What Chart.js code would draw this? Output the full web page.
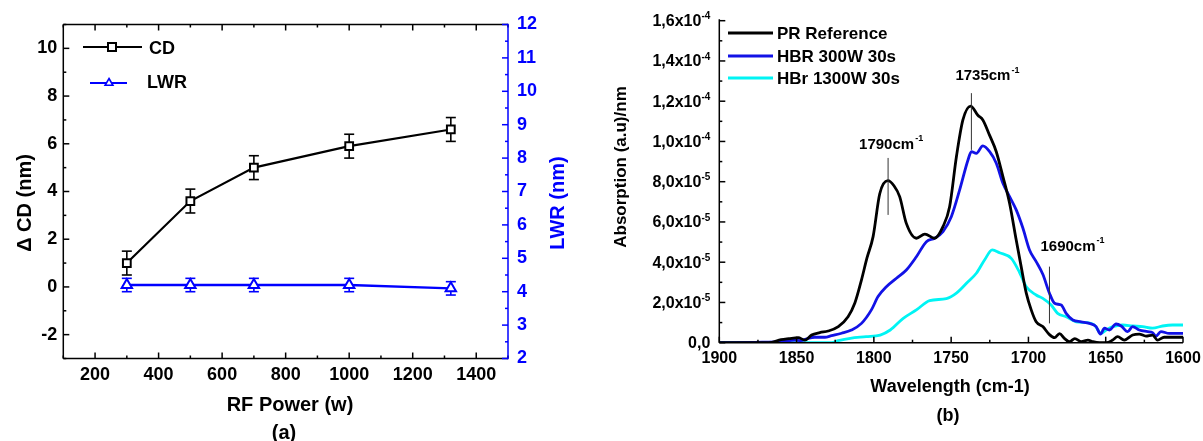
<!DOCTYPE html>
<html>
<head>
<meta charset="utf-8">
<script src="https://cdn.jsdelivr.net/npm/chart.js@4.4.0/dist/chart.umd.min.js"></script>
<style>
  html, body { margin: 0; padding: 0; background: #fff; }
  #wrap { position: relative; width: 1203px; height: 441px; overflow: hidden; background: #fff; }
  canvas { position: absolute; top: 0; }
  #chartA { left: 0; }
  #chartB { left: 600px; }
</style>
</head>
<body>
<div id="wrap">
  <canvas id="chartA" width="600" height="441"></canvas>
  <canvas id="chartB" width="603" height="441"></canvas>
</div>
<script>
// ---- panel (a) : CD / LWR vs RF power ----
const rfPower = [300, 500, 700, 1000, 1320];
const deltaCd = [1.0, 3.6, 5.0, 5.9, 6.6];
const deltaCdErr = [0.5, 0.5, 0.5, 0.5, 0.5];
const lwr = [4.2, 4.2, 4.2, 4.2, 4.1];
const lwrErr = [0.2, 0.2, 0.2, 0.2, 0.2];
const powerTicks = [200, 400, 600, 800, 1000, 1200, 1400];
const cdTicks = [-2, 0, 2, 4, 6, 8, 10];
const lwrTicks = [2, 3, 4, 5, 6, 7, 8, 9, 10, 11, 12];

// ---- panel (b) : FTIR absorption, values in 1e-5 a.u./nm ----
const wnRef = [1900, 1868, 1860, 1855, 1849, 1844.6, 1840.3, 1835, 1829.6, 1823, 1816.7, 1812.3, 1808, 1804.5,
  1800.5, 1796.2, 1791, 1787, 1783.3, 1779, 1772.5, 1767, 1760.7, 1755.3, 1751, 1746.6, 1742.4, 1737.4, 1732.7,
  1729.5, 1725.1, 1720.8, 1716.5, 1712.2, 1707.9, 1704.7, 1701.4, 1698.2, 1695, 1690.7, 1686.4, 1683.1, 1679.9,
  1676.6, 1673.4, 1670, 1665.8, 1661.5, 1658.3, 1654, 1649.7, 1645.5, 1642.3, 1638, 1632.6, 1628.3, 1624, 1619.7,
  1616.5, 1612.2, 1606.8, 1600];
const absRef = [0, 0, 0.15, 0.2, 0.25, 0.13, 0.38, 0.5, 0.58, 0.8, 1.29, 1.97, 3.12, 4.2,
  5.27, 7.4, 8.05, 7.8, 7.26, 5.93, 5.19, 5.4, 5.19, 5.77, 6.75, 9.24, 11.07, 11.76, 11.3,
  11.07, 10.3, 9.49, 8.25, 6.93, 5.1, 3.78, 2.46, 1.63, 1.04, 0.8, 0.4, 0.25, 0.45,
  0.2, 0.05, 0.2, 0.05, 0.13, 0.05, 0, 0, 0.13, 0.3, 0.13, 0.38, 0.43, 0.33, 0.38,
  0.13, 0.27, 0.27, 0.27];

const wn300 = [1900, 1877, 1859.7, 1851, 1847.3, 1842.5, 1838.2, 1831.7, 1827.4, 1820.9, 1814.5, 1808, 1801.6,
  1797.3, 1791.9, 1785.4, 1779, 1772.5, 1766, 1760.7, 1755.3, 1749.9, 1744.5, 1739.1, 1736.9, 1733.7, 1729.5,
  1725.1, 1720.8, 1716.5, 1712.2, 1707.9, 1703.6, 1699.3, 1695, 1690.7, 1686.4, 1683.1, 1678.8, 1675.6, 1671.3,
  1665.9, 1660.5, 1656.2, 1653.4, 1650.8, 1647.6, 1643.3, 1640, 1635.8, 1632.6, 1628.3, 1622.9, 1619.7, 1617.5,
  1614.3, 1608.9, 1600];
const abs300 = [0, 0.02, 0.05, 0.13, 0.1, 0.22, 0.27, 0.27, 0.35, 0.47, 0.63, 0.96, 1.63,
  2.29, 2.78, 3.2, 3.61, 4.27, 5.02, 5.19, 5.52, 6.26, 7.59, 9.08, 9.49, 9.41, 9.78,
  9.49, 8.92, 7.92, 7.26, 6.6, 5.7, 4.61, 4.03, 3.4, 2.46, 1.96, 1.87, 1.46, 1.13,
  1.04, 0.96, 0.8, 0.43, 0.72, 0.63, 0.93, 0.83, 0.55, 0.8, 0.63, 0.55, 0.5, 0.33,
  0.55, 0.46, 0.46];

const wn1300 = [1900, 1827.4, 1823, 1815.3, 1805, 1795.9, 1789.4, 1781, 1772.5, 1763.9, 1753.1, 1746.6, 1739.1,
  1733.7, 1728.4, 1723.4, 1718.7, 1711.1, 1705.8, 1701.4, 1695, 1690.7, 1685.3, 1681.1, 1675.6, 1669.1, 1662.6,
  1657.3, 1653, 1649.7, 1645.5, 1639, 1632.6, 1626.1, 1619.7, 1613.2, 1606.8, 1600];
const abs1300 = [0, 0, 0.1, 0.22, 0.3, 0.38, 0.63, 1.21, 1.63, 2.09, 2.19, 2.46, 3.03,
  3.45, 4.11, 4.61, 4.47, 4.19, 3.5, 2.78, 2.37, 2.2, 1.87, 1.46, 1.29, 1.04, 1.0,
  0.88, 0.47, 0.63, 0.8, 0.88, 0.83, 0.8, 0.72, 0.83, 0.88, 0.88];

const seriesNames = ['PR Reference', 'HBR 300W 30s', 'HBr 1300W 30s'];

// peak markers: position, line span (1e-5 units), label
const peakWn = [1790.8, 1736.9, 1686.4];
const peakLow = [6.35, 9.58, 0.96];
const peakHigh = [9.18, 12.4, 3.78];
const peakLabels = ['1790cm', '1735cm', '1690cm'];

const wnTicks = [1900, 1850, 1800, 1750, 1700, 1650, 1600];
const absTicks = [0, 2, 4, 6, 8, 10, 12, 14, 16];
const absTickText = ['0,0', '2,0x10', '4,0x10', '6,0x10', '8,0x10', '1,0x10', '1,2x10', '1,4x10', '1,6x10'];
const absTickExp = ['', '-5', '-5', '-5', '-5', '-4', '-4', '-4', '-4'];

const FONT = '"Liberation Sans", Arial, Helvetica, sans-serif';
const BLUE_A = '#0000ff';
const COLORS_B = ['#000000', '#1212e6', '#00f4f4'];

function font(size) { return 'bold ' + size + 'px ' + FONT; }
function seg(ctx, x1, y1, x2, y2) { ctx.beginPath(); ctx.moveTo(x1, y1); ctx.lineTo(x2, y2); ctx.stroke(); }
function range(a, b, step) {
  const out = [];
  for (let v = a; v <= b + 1e-9; v += step) out.push(Math.round(v * 1000) / 1000);
  return out;
}
function xy(xs, ys) { return xs.map((v, i) => ({ x: v, y: ys[i] })); }

function square(ctx, x, y, s) { ctx.beginPath(); ctx.rect(x - s, y - s, 2 * s, 2 * s); ctx.fill(); ctx.stroke(); }
function triangle(ctx, x, y, r) {
  ctx.beginPath();
  ctx.moveTo(x, y - r);
  ctx.lineTo(x + r * 0.866, y + r * 0.5);
  ctx.lineTo(x - r * 0.866, y + r * 0.5);
  ctx.closePath(); ctx.fill(); ctx.stroke();
}

function errorBars(ctx, xs, ys, xv, yv, ev, color) {
  ctx.strokeStyle = color;
  xv.forEach((v, i) => {
    const px = xs.getPixelForValue(v);
    const top = ys.getPixelForValue(yv[i] + ev[i]);
    const bot = ys.getPixelForValue(yv[i] - ev[i]);
    seg(ctx, px, top, px, bot);
    seg(ctx, px - 5, top, px + 5, top);
    seg(ctx, px - 5, bot, px + 5, bot);
  });
}

const axesA = {
  id: 'axesA',
  beforeDatasetsDraw(chart) {
    const { ctx, scales: { x, y, y2 } } = chart;
    ctx.save();
    ctx.lineWidth = 1.6;
    errorBars(ctx, x, y, rfPower, deltaCd, deltaCdErr, '#000');
    errorBars(ctx, x, y2, rfPower, lwr, lwrErr, BLUE_A);
    ctx.restore();
  },
  afterDraw(chart) {
    const { ctx, chartArea: a, scales: { x, y, y2 } } = chart;
    ctx.save();
    ctx.lineWidth = 1.5;
    ctx.strokeStyle = '#000';
    // inward ticks
    range(100, 1500, 100).forEach(v => {
      const px = x.getPixelForValue(v);
      const len = v % 200 === 0 ? 6 : 3;
      seg(ctx, px, a.bottom, px, a.bottom - len);
      seg(ctx, px, a.top, px, a.top + len);
    });
    range(-3, 11, 1).forEach(v => {
      const py = y.getPixelForValue(v);
      seg(ctx, a.left, py, a.left + (v % 2 === 0 ? 6 : 3), py);
    });
    seg(ctx, a.left, a.top, a.left, a.bottom);
    seg(ctx, a.left, a.bottom, a.right, a.bottom);
    seg(ctx, a.left, a.top, a.right, a.top);
    ctx.strokeStyle = BLUE_A;
    range(2, 12, 0.5).forEach(v => {
      const py = y2.getPixelForValue(v);
      seg(ctx, a.right, py, a.right - (Number.isInteger(v) ? 6 : 3), py);
    });
    seg(ctx, a.right, a.top - 0.7, a.right, a.bottom + 0.7);

    // tick labels
    ctx.font = font(18);
    ctx.textBaseline = 'middle';
    ctx.fillStyle = '#000';
    ctx.textAlign = 'center';
    powerTicks.forEach(v => ctx.fillText(String(v), x.getPixelForValue(v), a.bottom + 17));
    ctx.textAlign = 'right';
    cdTicks.forEach(v => ctx.fillText(String(v), a.left - 6, y.getPixelForValue(v)));
    ctx.fillStyle = BLUE_A;
    ctx.textAlign = 'left';
    lwrTicks.forEach(v => ctx.fillText(String(v), a.right + 9, y2.getPixelForValue(v)));

    // axis titles
    ctx.font = font(20);
    ctx.textAlign = 'center';
    ctx.fillStyle = '#000';
    ctx.fillText('RF Power (w)', 290, 405);
    ctx.fillText('(a)', 284, 433);
    ctx.save();
    ctx.translate(25, 203); ctx.rotate(-Math.PI / 2);
    ctx.fillText('\u0394 CD (nm)', 0, 0);
    ctx.restore();
    ctx.save();
    ctx.fillStyle = BLUE_A;
    ctx.translate(558, 203); ctx.rotate(-Math.PI / 2);
    ctx.fillText('LWR (nm)', 0, 0);
    ctx.restore();

    // legend
    const ds = chart.data.datasets;
    ctx.lineWidth = 2.2;
    ctx.strokeStyle = ds[0].borderColor;
    seg(ctx, 83, 47, 142, 47);
    ctx.fillStyle = '#fff';
    ctx.lineWidth = 2;
    square(ctx, 112, 47, 4);
    ctx.strokeStyle = ds[1].borderColor;
    ctx.lineWidth = 2.2;
    seg(ctx, 90, 83, 127, 83);
    ctx.lineWidth = 1.6;
    ctx.fillStyle = '#fff';
    triangle(ctx, 109, 83, 4.5);
    ctx.font = font(18);
    ctx.textAlign = 'left';
    ctx.fillStyle = '#000';
    ctx.fillText(ds[0].label, 149, 49);
    ctx.fillText(ds[1].label, 147, 83);
    ctx.restore();
  }
};

new Chart(document.getElementById('chartA'), {
  type: 'line',
  data: {
    datasets: [{
      label: 'CD',
      data: xy(rfPower, deltaCd),
      yAxisID: 'y',
      borderColor: '#000',
      borderWidth: 2.2,
      pointStyle: 'rect',
      pointRadius: 5.5,
      pointBorderWidth: 2,
      pointBackgroundColor: '#fff',
      pointBorderColor: '#000',
      tension: 0
    }, {
      label: 'LWR',
      data: xy(rfPower, lwr),
      yAxisID: 'y2',
      borderColor: BLUE_A,
      borderWidth: 2.4,
      pointStyle: 'triangle',
      pointRadius: 6,
      pointBorderWidth: 2,
      pointBackgroundColor: '#fff',
      pointBorderColor: BLUE_A,
      tension: 0
    }]
  },
  options: {
    responsive: false,
    animation: false,
    layout: { padding: { left: 63.3, right: 92, top: 24.5, bottom: 82.5 } },
    plugins: { legend: { display: false }, tooltip: { enabled: false } },
    scales: {
      x: { type: 'linear', min: 100, max: 1500, display: false },
      y: { min: -3, max: 11, display: false },
      y2: { position: 'right', min: 2, max: 12, display: false }
    }
  },
  plugins: [axesA]
});

const axesB = {
  id: 'axesB',
  afterDraw(chart) {
    const { ctx, chartArea: a, scales: { x, y } } = chart;
    ctx.save();
    ctx.lineWidth = 1.5;
    ctx.strokeStyle = '#000';
    range(1600, 1900, 25).forEach(v => {
      const px = x.getPixelForValue(v);
      seg(ctx, px, a.bottom, px, a.bottom - (v % 50 === 0 ? 6 : 3));
    });
    range(0, 16, 1).forEach(v => {
      const py = y.getPixelForValue(v);
      seg(ctx, a.left, py, a.left + (v % 2 === 0 ? 6 : 3), py);
    });
    seg(ctx, a.left, a.top - 1.5, a.left, a.bottom);
    seg(ctx, a.left, a.bottom, a.right, a.bottom);

    // x tick labels
    ctx.fillStyle = '#000';
    ctx.font = font(16);
    ctx.textAlign = 'center';
    ctx.textBaseline = 'middle';
    wnTicks.forEach(v => ctx.fillText(String(v), x.getPixelForValue(v), a.bottom + 16));

    // y tick labels with exponent
    ctx.textAlign = 'left';
    absTicks.forEach((v, i) => {
      const py = y.getPixelForValue(v);
      ctx.font = font(16);
      const wBase = ctx.measureText(absTickText[i]).width;
      ctx.font = font(10);
      const wExp = absTickExp[i] ? ctx.measureText(absTickExp[i]).width : 0;
      const x0 = a.left - 9 - wBase - wExp;
      ctx.font = font(16);
      ctx.fillText(absTickText[i], x0, py + 1);
      if (absTickExp[i]) {
        ctx.font = font(10);
        ctx.fillText(absTickExp[i], x0 + wBase, py - 4);
      }
    });

    // axis titles
    ctx.font = font(18);
    ctx.textAlign = 'center';
    ctx.fillText('Wavelength (cm-1)', 350, 387);
    ctx.fillText('(b)', 348, 416);
    ctx.save();
    ctx.font = font(17);
    ctx.translate(21, 167); ctx.rotate(-Math.PI / 2);
    ctx.fillText('Absorption (a.u)/nm', 0, 0);
    ctx.restore();

    // peak labels
    const shift = [[-29, -13], [-16, -17], [-9, -20]];
    peakWn.forEach((w, i) => {
      const px = x.getPixelForValue(w) + shift[i][0];
      const py = y.getPixelForValue(peakHigh[i]) + shift[i][1];
      ctx.textAlign = 'left';
      ctx.font = font(15);
      ctx.fillText(peakLabels[i], px, py);
      const wb = ctx.measureText(peakLabels[i]).width;
      ctx.font = font(9);
      ctx.fillText('-1', px + wb + 1, py - 6);
    });

    // legend
    const ys = [33, 56, 78];
    seriesNames.forEach((name, i) => {
      ctx.strokeStyle = COLORS_B[i];
      ctx.lineWidth = 2.8;
      seg(ctx, 128, ys[i], 173, ys[i]);
      ctx.font = font(17);
      ctx.textAlign = 'left';
      ctx.fillStyle = '#000';
      ctx.fillText(name, 177, ys[i] + 1);
    });
    ctx.restore();
  }
};

const spectra = [
  { label: seriesNames[0], data: xy(wnRef, absRef) },
  { label: seriesNames[1], data: xy(wn300, abs300) },
  { label: seriesNames[2], data: xy(wn1300, abs1300) }
].map((d, i) => Object.assign(d, {
  borderColor: COLORS_B[i],
  borderWidth: 2.8,
  pointRadius: 0,
  cubicInterpolationMode: 'monotone',
  fill: false
}));

const peakLines = peakWn.map((w, i) => ({
  label: peakLabels[i],
  data: [{ x: w, y: peakLow[i] }, { x: w, y: peakHigh[i] }],
  borderColor: '#333',
  borderWidth: 1,
  pointRadius: 0
}));

new Chart(document.getElementById('chartB'), {
  type: 'line',
  data: { datasets: peakLines.concat(spectra) },
  options: {
    responsive: false,
    animation: false,
    layout: { padding: { left: 119.3, right: 20, top: 20.7, bottom: 98.3 } },
    plugins: { legend: { display: false }, tooltip: { enabled: false } },
    scales: {
      x: { type: 'linear', min: 1600, max: 1900, reverse: true, display: false },
      y: { min: 0, max: 16, display: false }
    }
  },
  plugins: [axesB]
});
</script>
</body>
</html>
